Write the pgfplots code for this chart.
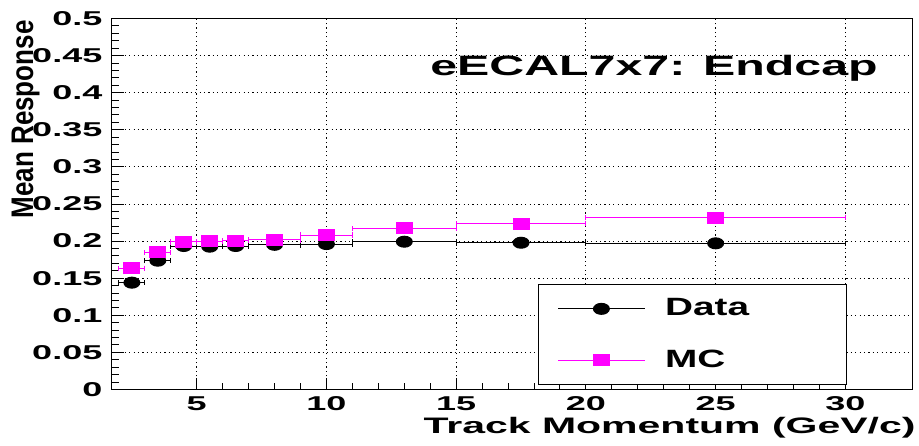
\documentclass[border=0pt]{standalone}
\usepackage{fontspec}
\setmainfont{Liberation Sans}
\usepackage{graphicx}
\usepackage{pgfplots}
\pgfplotsset{compat=1.18}
\newcommand{\sx}[2]{\scalebox{#1}[1]{#2}}
\newcommand{\tl}[1]{\scalebox{1.8}[1]{#1}}
\definecolor{rootmag}{RGB}{255,0,255}

\begin{document}
\begin{tikzpicture}
\useasboundingbox (-55.75pt,-27.75pt) rectangle (403.75pt,194.75pt);
\begin{axis}[
  scale only axis, width=400.4pt, height=185.5pt,
  xmin=1.715, xmax=32.58, ymin=0, ymax=0.5,
  scaled ticks=false,
  axis line style={line width=0.8pt},
  xtick={5,10,15,20,25,30}, minor x tick num=4,
  xticklabels={\tl{5},\tl{10},\tl{15},\tl{20},\tl{25},\tl{30}},
  ytick={0,0.05,0.1,0.15,0.2,0.25,0.3,0.35,0.4,0.45,0.5}, minor y tick num=4,
  yticklabels={\tl{0},\tl{0.05},\tl{0.1},\tl{0.15},\tl{0.2},\tl{0.25},\tl{0.3},\tl{0.35},\tl{0.4},\tl{0.45},\tl{0.5}},
  tick align=inside, xtick pos=left, ytick pos=left,
  major tick length=6pt, minor tick length=3.5pt,
  tick style={black, line width=0.5pt},
  grid=major, major grid style={black, line width=0.5pt, dash pattern=on 0.6pt off 1.6pt},
  xticklabel style={font=\fontsize{10}{12}\selectfont\bfseries, anchor=north, inner sep=0pt, yshift=-3.25pt},
  yticklabel style={font=\fontsize{10}{12}\selectfont\bfseries, anchor=east, inner sep=0pt, xshift=-4.4pt},
  xlabel={\sx{1.83}{Track Momentum (GeV/c)}},
  xlabel style={font=\fontsize{11.2}{13}\selectfont\bfseries, at={(axis description cs:1.00462,-0.11725)}, anchor=base east, inner sep=0pt},
  ylabel={\scalebox{1}[1.2]{Mean Response}},
  ylabel style={font=\fontsize{13}{15}\selectfont\bfseries, at={(axis description cs:-0.09803,0.99596)}, anchor=base east, inner sep=0pt},
  legend style={at={(axis description cs:0.5326,0.0121)}, anchor=south west, draw=black, line width=0.6pt, fill=white,
    inner xsep=9.5pt, inner ysep=7pt, row sep=15.5pt, column sep=10pt,
    font=\fontsize{12.5}{14}\selectfont\bfseries, nodes={inner sep=0pt}},
  legend cell align=left,
]
\addplot[black, line width=0.5pt, only marks, mark=*, mark size=2.75pt,
  mark options={xscale=1.45, solid, fill=black},
  legend image code/.code={\draw[black, line width=0.5pt] (0pt,0pt) -- (43.3pt,0pt); \draw[black, mark=*, mark size=2.75pt, mark options={xscale=1.45, fill=black}] plot coordinates {(21.65pt,0pt)};},
  error bars/.cd, x dir=both, x explicit,
  error bar style={black, line width=0.5pt},
  error mark options={rotate=90, black, mark size=1.4pt, line width=0.5pt}]
  coordinates {
  (2.5,0.1440) +- (0.5,0)
  (3.5,0.1736) +- (0.5,0)
  (4.5,0.1934) +- (0.5,0)
  (5.5,0.1925) +- (0.5,0)
  (6.5,0.1934) +- (0.5,0)
  (8,0.1950) +- (1,0)
  (10,0.1960) +- (1,0)
  (13,0.1992) +- (2,0)
  (17.5,0.1978) +- (2.5,0)
  (25,0.1970) +- (5,0)
  };
\addlegendentry{\makebox[81.2pt][l]{\sx{1.55}{Data}}}
\addplot[rootmag, line width=0.5pt, only marks, mark=square*, mark size=2.75pt,
  mark options={xscale=1.45, solid, fill=rootmag},
  legend image code/.code={\draw[rootmag, line width=0.5pt] (0pt,0pt) -- (43.3pt,0pt); \draw[rootmag, mark=square*, mark size=2.75pt, mark options={xscale=1.45, fill=rootmag}] plot coordinates {(21.65pt,0pt)};},
  error bars/.cd, x dir=both, x explicit,
  error bar style={rootmag, line width=0.5pt},
  error mark options={rotate=90, rootmag, mark size=1.4pt, line width=0.5pt}]
  coordinates {
  (2.5,0.1633) +- (0.5,0)
  (3.5,0.1849) +- (0.5,0)
  (4.5,0.1988) +- (0.5,0)
  (5.5,0.1997) +- (0.5,0)
  (6.5,0.2006) +- (0.5,0)
  (8,0.2015) +- (1,0)
  (10,0.2082) +- (1,0)
  (13,0.2172) +- (2,0)
  (17.5,0.2235) +- (2.5,0)
  (25,0.2316) +- (5,0)
  };
\addlegendentry{\makebox[81.2pt][l]{\sx{1.55}{MC}}}
\node[anchor=base west, inner sep=0pt, font=\fontsize{14}{16}\selectfont\bfseries] at (axis description cs:0.3977,0.8477) {\sx{1.725}{eECAL7x7: Endcap}};
\end{axis}
\end{tikzpicture}
\end{document}
